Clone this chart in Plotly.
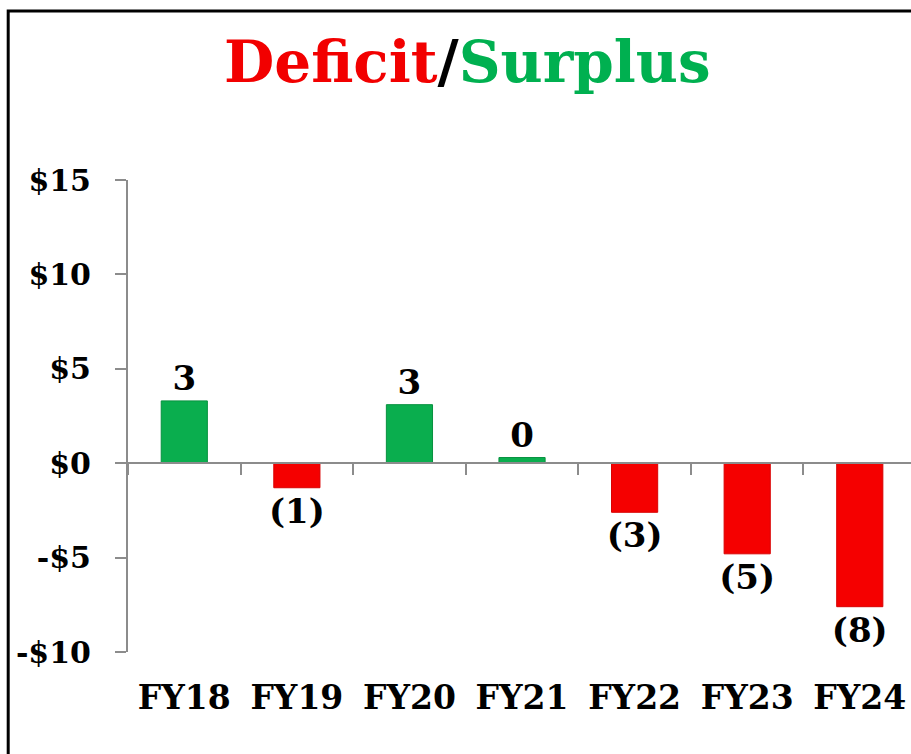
import plotly.graph_objects as go

# data ($, fiscal years)
years = ['FY18', 'FY19', 'FY20', 'FY21', 'FY22', 'FY23', 'FY24']
balance = [3.3, -1.3, 3.1, 0.3, -2.6, -4.8, -7.6]
y_ticks = [15, 10, 5, 0, -5, -10]
y_tick_text = ['$15', '$10', '$5', '$0', '-$5', '-$10']

GREEN = '#0AAE4E'
RED = '#F50000'
GREY = '#8C8C8C'
FONT = 'DejaVu Serif'

def fmt(v):
    if v < 0:
        return '({})'.format(round(-v))
    return '{}'.format(round(v))

labels = [fmt(v) for v in balance]
colors = [GREEN if v >= 0 else RED for v in balance]
edge = ['#07913F' if v >= 0 else '#D80000' for v in balance]

fig = go.Figure()
fig.add_trace(go.Bar(
    x=years, y=balance, width=0.41,
    marker=dict(color=colors, line=dict(color=edge, width=1)),
    text=labels, textposition='outside', cliponaxis=False, constraintext='none',
    textfont=dict(family=FONT, size=34, color='black', weight='bold'),
))

fig.update_layout(
    width=911, height=754,
    margin=dict(l=128, r=0, t=180, b=102),
    paper_bgcolor='white', plot_bgcolor='white',
    showlegend=False,
    font=dict(family=FONT, color='black'),
    title=dict(
        text="<span style='color:#F20000'>Deficit</span>/<span style='color:#00B050'>Surplus</span>",
        font=dict(family=FONT, size=58, weight='bold'),
        x=0.513, xanchor='center', xref='container',
        y=0.918, yanchor='middle', yref='container',
    ),
    xaxis=dict(
        type='category', range=[-0.5, 6.455],
        anchor='free', position=0.4,
        showline=True, linecolor=GREY, linewidth=2,
        ticks='outside', tickson='boundaries', ticklen=11, tickwidth=2, tickcolor=GREY,
        ticklabelstandoff=205,
        tickfont=dict(family=FONT, size=33, weight='bold', color='black'),
        showgrid=False, zeroline=False, automargin=False,
    ),
    yaxis=dict(
        range=[-10, 15], tickvals=y_ticks, ticktext=y_tick_text,
        showline=True, linecolor=GREY, linewidth=2,
        ticks='outside', ticklen=11, tickwidth=2, tickcolor=GREY,
        ticklabelstandoff=18,
        tickfont=dict(family=FONT, size=30, weight='bold', color='black'),
        showgrid=False, zeroline=False, automargin=False,
    ),
    shapes=[dict(
        type='rect', xref='paper', yref='paper',
        x0=-0.153, x1=1.1, y0=-0.5, y1=1.358,
        line=dict(color='black', width=3), fillcolor='rgba(0,0,0,0)',
    )],
)

# drop the page's default body margin so the chart sits at the window's corner
fig.write_html('out.html', config={'displayModeBar': False},
               post_script="document.body.style.margin='0';")
